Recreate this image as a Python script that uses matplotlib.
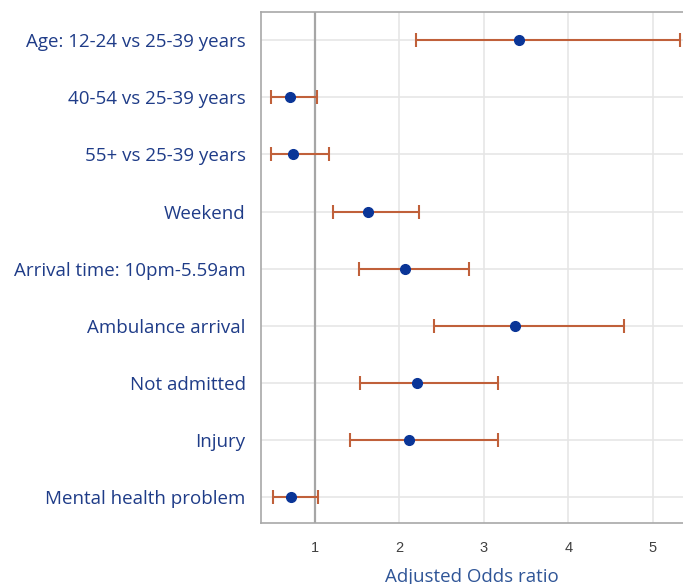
import numpy as np
import matplotlib
matplotlib.use("Agg")
import matplotlib.pyplot as plt

labels = ["Age: 12-24 vs 25-39 years", "40-54 vs 25-39 years", "55+ vs 25-39 years",
          "Weekend", "Arrival time: 10pm-5.59am", "Ambulance arrival",
          "Not admitted", "Injury", "Mental health problem"]
odds = [3.42, 0.70, 0.74, 1.63, 2.07, 3.37, 2.21, 2.12, 0.72]
ci_low = [2.20, 0.48, 0.48, 1.21, 1.52, 2.41, 1.53, 1.41, 0.50]
ci_high = [5.33, 1.02, 1.17, 2.23, 2.82, 4.66, 3.17, 3.17, 1.04]

odds = np.array(odds)
err = np.array([odds - np.array(ci_low), np.array(ci_high) - odds])
ypos = np.arange(len(labels))

fig = plt.figure(figsize=(6.83, 5.84), dpi=100)
ax = fig.add_axes([0.382, 0.1045, 0.618, 0.8745])

ax.errorbar(odds, ypos, xerr=err, fmt="none", ecolor="#c0603a", elinewidth=1.5,
            capsize=5, capthick=1.5, zorder=3)
ax.plot(odds, ypos, "o", color="#0a3597", markersize=7, zorder=4)
ax.axvline(1, color="#a6a6a6", lw=1.6, zorder=2)

ax.set_xlim(0.36, 5.36)
ax.set_ylim(len(labels) - 1 + 0.455, -0.49)
ax.set_xticks([1, 2, 3, 4, 5])
ax.set_xticklabels(["1", "2", "3", "4", "5"], family="Liberation Sans")
ax.set_yticks(ypos)
ax.set_yticklabels(labels, fontsize=13.5, color="#1f3c88", family="Open Sans")
ax.tick_params(axis="x", labelsize=10.5, colors="#404040", length=0, pad=13)
ax.tick_params(axis="y", length=0, pad=11)
ax.grid(True, color="#e6e6e6", lw=1.2, zorder=0)
ax.set_axisbelow(True)
for s in ["left", "top", "bottom"]:
    ax.spines[s].set_color("#a8a8a8")
    ax.spines[s].set_linewidth(1.2)
ax.spines["right"].set_visible(False)

ax.set_xlabel("Adjusted Odds ratio", fontsize=13.5, color="#2f5597", family="Open Sans", labelpad=9)

fig.savefig("out.png", dpi=100)
